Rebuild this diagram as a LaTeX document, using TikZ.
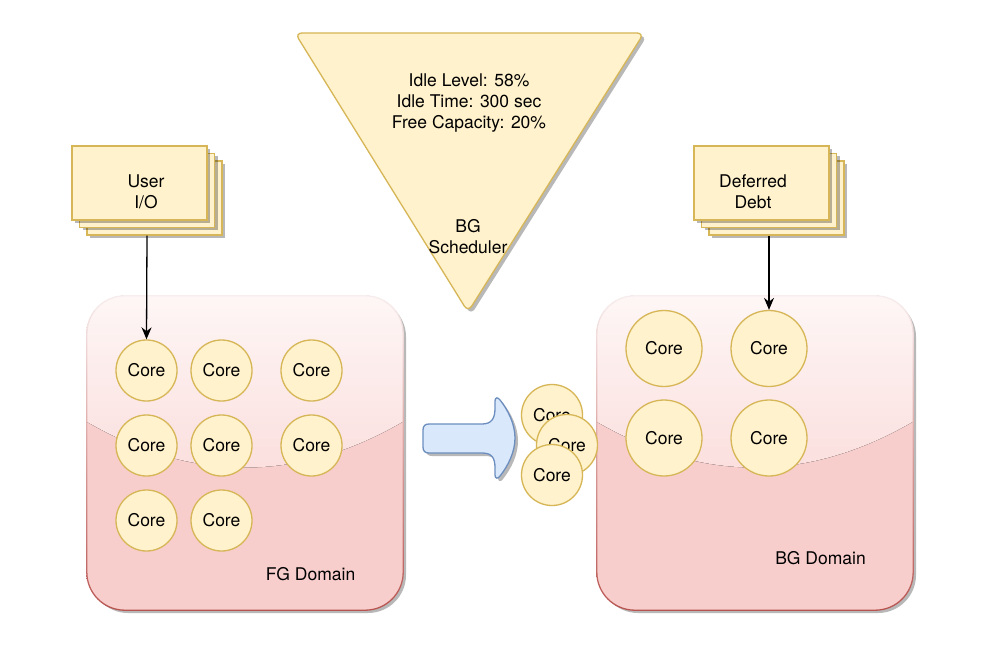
\documentclass[tikz,border=0pt]{standalone}
\usepackage{fontspec}
\setmainfont{TeX Gyre Heros}
\usetikzlibrary{arrows.meta,shadows}
\definecolor{ylfill}{HTML}{FFF2CC}
\definecolor{yldraw}{HTML}{D6B656}
\definecolor{pkfill}{HTML}{F8CECC}
\definecolor{pkdraw}{HTML}{B85450}
\definecolor{blfill}{HTML}{DAE8FC}
\definecolor{bldraw}{HTML}{6C8EBF}

\begin{document}
\begin{tikzpicture}[x=1pt,y=-1pt,font=\fontsize{17.5}{21}\selectfont,
 dshadow/.style={drop shadow={shadow xshift=3pt,shadow yshift=-3pt,opacity=.28,fill=black}},
 core/.style={circle,draw=yldraw,fill=ylfill,line width=1.3pt,minimum size=61pt,inner sep=0pt},
 bigcore/.style={core,minimum size=76pt},
 stack/.style={draw=yldraw,fill=ylfill,line width=1.3pt,minimum width=135pt,minimum height=74pt,inner sep=0pt,dshadow},
 domainbox/.style={fill=pkfill,rounded corners=38pt,minimum width=316pt,minimum height=314pt,dshadow},
 arrow/.style={-{Stealth[length=12pt,width=10pt]},line width=1.3pt,black}]
 \fill[white] (0,0) rectangle (984,652);
 \useasboundingbox (0,0) rectangle (984,652);
 % domains
 \node[domainbox] (fg) at (245,453) {};
 \node[domainbox] (bg) at (755,453) {};
 \foreach \d in {fg,bg}{
  \begin{scope}
   \clip[rounded corners=38pt] (\d.north west) rectangle (\d.south east);
   \fill[shift={(\d.north west)},top color=pkfill!18!white,bottom color=pkfill!68!white]
    (0,0) -- (316,0) -- (316,126) .. controls (211,187) and (105,187) .. (0,126) -- cycle;
  \end{scope}
  \shade[even odd rule,top color=pkdraw!10!white,bottom color=pkdraw,rounded corners=38.65pt]
   ([shift={(-.65,-.65)}]\d.north west) rectangle ([shift={(.65,.65)}]\d.south east)
   [rounded corners=37.35pt] ([shift={(.65,.65)}]\d.north west) rectangle ([shift={(-.65,-.65)}]\d.south east);
 }
 \node (fg-text) at (310.5,574) {FG Domain};
 \node (bg-text) at (820.5,558) {BG Domain};
 % scheduler
 \draw[yldraw,fill=ylfill,line width=1.3pt,rounded corners=7pt,dshadow] (295,33) -- (644,33) -- (468,312) -- cycle;
 \node[align=center] (stats) at (469,103) {Idle Level: 58\%\\Idle Time: 300 sec\\Free Capacity: 20\%};
 \node[align=center] (sched) at (468,237) {BG\\Scheduler};
 % inputs
 \node[stack] (io3) at (154.5,198) {};
 \node[stack] (io2) at (147,190.5) {};
 \node[stack] (io) at (139.5,183) {};
 \node[align=center] (io-text) at (146,192) {User\\I/O};
 \node[stack] (dd3) at (776.5,198) {};
 \node[stack] (dd2) at (769,190.5) {};
 \node[stack] (dd) at (761.5,183) {};
 \node[align=center] (dd-text) at (753,192) {Deferred\\Debt};
 % fg cores
 \node[core] (f1) at (146.5,370.5) {Core};
 \node[core] (f2) at (221.5,370.5) {Core};
 \node[core] (f3) at (311.5,370.5) {Core};
 \node[core] (f4) at (146.5,445.5) {Core};
 \node[core] (f5) at (221.5,445.5) {Core};
 \node[core] (f6) at (311.5,445.5) {Core};
 \node[core] (f7) at (146.5,520.5) {Core};
 \node[core] (f8) at (221.5,520.5) {Core};
 % bg cores
 \node[bigcore] (b1) at (664,348.5) {Core};
 \node[bigcore] (b2) at (769,348.5) {Core};
 \node[bigcore] (b3) at (664,438) {Core};
 \node[bigcore] (b4) at (769,438) {Core};
 % migrating cores
 \draw[bldraw,fill=blfill,line width=1.3pt,dshadow] (429,424) -- (482,424) .. controls (492,424) and (495,418) .. (495,408)
  -- (495,401) .. controls (495,397) and (498,397) .. (500,400) .. controls (508,410) and (515,424) .. (515,438)
  .. controls (515,452) and (508,466) .. (500,476) .. controls (498,479) and (495,479) .. (495,475) -- (495,468)
  .. controls (495,458) and (492,453) .. (482,453) -- (429,453) .. controls (425,453) and (423,451) .. (423,447)
  -- (423,430) .. controls (423,426) and (425,424) .. (429,424) -- cycle;
 \node[core] (m1) at (552,415) {Core};
 \node[core] (m2) at (567,445) {Core};
 \node[core] (m3) at (552,475) {Core};
 \draw[arrow] (io2.south |- io3.south) -- (f1.north);
 \draw[arrow] (dd2.south |- dd3.south) -- (b2.north);
\end{tikzpicture}
\end{document}
